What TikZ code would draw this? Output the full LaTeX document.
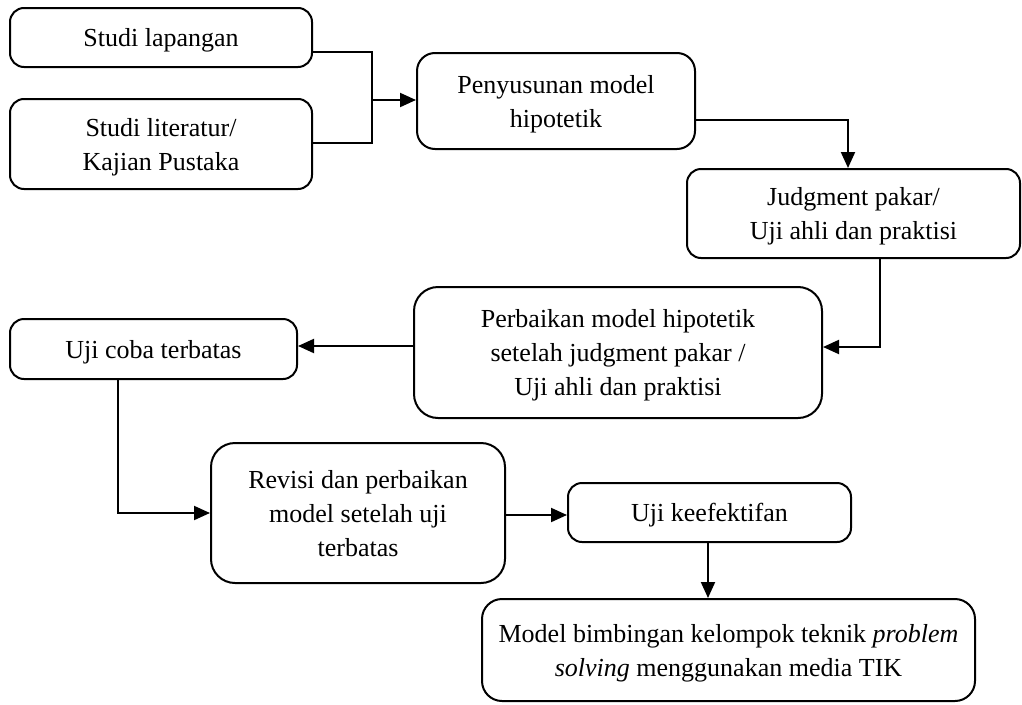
\documentclass[tikz,border=0pt]{standalone}
\usepackage{fontspec}
\setmainfont{Liberation Serif}
\usetikzlibrary{arrows.meta}
\begin{document}
\begin{tikzpicture}[x=1pt,y=-1pt,
  box/.style={draw, line width=2pt, rounded corners=#1, align=center, inner sep=0pt,
    text depth=0pt, font=\fontsize{26}{34}\selectfont},
  box/.default=14pt,
  conn/.style={line width=2pt},
  arr/.style={line width=2pt, -{Triangle[length=16pt,width=14pt]}}]
\useasboundingbox (0,0) rectangle (1022,704);
\node[box, minimum width=302pt, minimum height=59pt] (b1) at (161,37.5) {Studi lapangan};
\node[box, minimum width=302pt, minimum height=90pt] (b2) at (161,144) {Studi literatur/\\Kajian Pustaka};
\node[box=18pt, minimum width=278pt, minimum height=96pt] (b3) at (556,101) {Penyusunan model\\hipotetik};
\node[box, minimum width=333pt, minimum height=89pt] (b4) at (853.5,213.5) {Judgment pakar/\\Uji ahli dan praktisi};
\node[box=24pt, minimum width=408pt, minimum height=131pt] (b5) at (618,352.5) {Perbaikan model hipotetik\\setelah judgment pakar /\\Uji ahli dan praktisi};
\node[box, minimum width=287pt, minimum height=60pt] (b6) at (153.5,349) {Uji coba terbatas};
\node[box=24pt, minimum width=294pt, minimum height=140pt] (b7) at (358,513) {Revisi dan perbaikan\\model setelah uji\\terbatas};
\node[box, minimum width=283pt, minimum height=59pt] (b8) at (709.5,512.5) {Uji keefektifan};
\node[box=20pt, minimum width=493pt, minimum height=102pt] (b9) at (728.5,650) {Model bimbingan kelompok teknik \textit{problem}\\\textit{solving} menggunakan media TIK};
% connectors
\coordinate (j1) at (372,100);
\draw[conn] (b1.east |- 0,52) -| (j1);
\draw[conn] (b2.east |- 0,143) -| (j1);
\draw[arr] (j1) -- (b3.west |- j1);
\draw[arr] (b3.east |- 0,120) -| (b4.north -| 848,0);
\draw[arr] (b4.south -| 880,0) |- (b5.east |- 0,347);
\draw[arr] (b5.west |- 0,346) -- (b6.east |- 0,346);
\draw[arr] (b6.south -| 118,0) |- (b7.west |- 0,513);
\draw[arr] (b7.east |- 0,515) -- (b8.west |- 0,515);
\draw[arr] (b8.south -| 708,0) -- (b9.north -| 708,0);
\end{tikzpicture}
\end{document}
